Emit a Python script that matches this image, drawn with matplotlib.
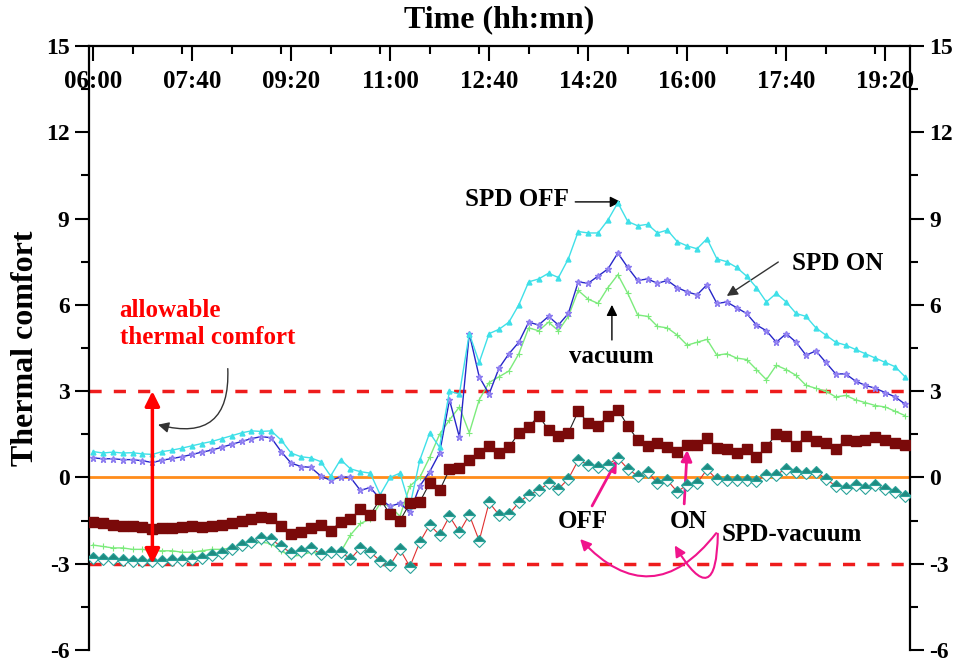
import numpy as np
import matplotlib
matplotlib.use('Agg')
import matplotlib.pyplot as plt
from matplotlib.ticker import FixedLocator, MultipleLocator, FuncFormatter
from matplotlib.patches import FancyArrowPatch

plt.rcParams['font.family'] = 'Liberation Serif'
plt.rcParams['font.weight'] = 'bold'
plt.rcParams['axes.unicode_minus'] = False

# sample times, minutes after midnight (06:00 -> 19:40, every 10 min)
minutes = np.arange(360, 1181, 10)

spd_off = [0.90, 0.85, 0.88, 0.85, 0.86, 0.82, 0.80, 0.90, 0.95, 1.02,
           1.10, 1.18, 1.25, 1.35, 1.45, 1.55, 1.62, 1.60, 1.62, 1.30,
           0.85, 0.72, 0.68, 0.55, 0.05, 0.62, 0.30, 0.20, 0.15, -0.60,
           0.00, 0.15, -1.00, 0.60, 1.55, 1.05, 3.00, 2.90, 5.00, 4.00,
           5.00, 5.15, 5.40, 6.00, 6.80, 6.90, 7.10, 6.95, 7.60, 8.55,
           8.50, 8.50, 8.95, 9.55, 8.90, 8.75, 8.80, 8.50, 8.60, 8.20,
           8.05, 7.95, 8.30, 7.60, 7.50, 7.30, 7.00, 6.60, 6.10, 6.40,
           6.10, 5.70, 5.60, 5.20, 4.95, 4.70, 4.60, 4.45, 4.30, 4.15,
           4.00, 3.85, 3.50]

spd_on = [0.68, 0.65, 0.65, 0.62, 0.62, 0.58, 0.52, 0.60, 0.66, 0.72,
          0.80, 0.88, 0.95, 1.05, 1.15, 1.25, 1.35, 1.42, 1.38, 0.90,
          0.50, 0.38, 0.35, 0.05, -0.10, 0.02, 0.00, -0.45, -0.35, -0.75,
          -1.00, -0.90, -1.20, -0.30, 0.20, 0.85, 2.70, 1.40, 5.00, 3.50,
          2.90, 3.80, 4.30, 4.70, 5.40, 5.30, 5.60, 5.30, 5.70, 6.80,
          6.75, 7.00, 7.25, 7.80, 7.30, 6.85, 6.90, 6.75, 6.85, 6.60,
          6.45, 6.35, 6.70, 6.05, 6.10, 5.90, 5.70, 5.30, 5.10, 4.70,
          5.00, 4.70, 4.25, 4.40, 4.00, 3.60, 3.60, 3.35, 3.20, 3.10,
          2.95, 2.80, 2.55]

vacuum = [-2.35, -2.40, -2.45, -2.45, -2.50, -2.50, -2.55, -2.55, -2.55, -2.60,
          -2.60, -2.55, -2.50, -2.50, -2.45, -2.40, -2.30, -2.25, -2.30, -2.55,
          -2.75, -2.70, -2.60, -2.65, -2.60, -2.60, -2.00, -1.60, -1.45, -0.90,
          -1.00, -1.35, -0.30, 0.00, 0.70, 1.50, 2.00, 2.45, 1.55, 2.70,
          3.30, 3.50, 3.70, 4.30, 5.20, 5.10, 5.40, 5.10, 5.60, 6.50,
          6.20, 6.05, 6.60, 7.05, 6.40, 5.65, 5.60, 5.25, 5.20, 4.95,
          4.60, 4.70, 4.80, 4.25, 4.30, 4.15, 4.10, 3.75, 3.40, 3.90,
          3.75, 3.55, 3.20, 3.10, 3.00, 2.80, 2.85, 2.70, 2.60, 2.50,
          2.45, 2.30, 2.15]

diff_on = [-1.55, -1.60, -1.65, -1.70, -1.70, -1.72, -1.80, -1.75, -1.75, -1.72,
           -1.70, -1.72, -1.68, -1.65, -1.60, -1.50, -1.45, -1.38, -1.40, -1.70,
           -1.95, -1.90, -1.75, -1.65, -1.85, -1.55, -1.45, -1.10, -1.30, -0.75,
           -1.28, -1.50, -0.90, -0.85, -0.20, -0.45, 0.28, 0.33, 0.62, 0.85,
           1.10, 0.85, 1.05, 1.55, 1.75, 2.15, 1.65, 1.45, 1.55, 2.30,
           1.90, 1.80, 2.15, 2.35, 1.80, 1.30, 1.10, 1.20, 1.07, 0.90,
           1.14, 1.14, 1.38, 1.03, 1.00, 0.86, 1.00, 0.70, 1.07, 1.50,
           1.45, 1.10, 1.45, 1.25, 1.20, 1.00, 1.30, 1.25, 1.30, 1.42,
           1.30, 1.20, 1.12]

diff_off = [-2.80, -2.85, -2.85, -2.88, -2.90, -2.90, -2.92, -2.90, -2.88, -2.86,
            -2.84, -2.80, -2.70, -2.62, -2.50, -2.35, -2.25, -2.10, -2.15, -2.40,
            -2.62, -2.55, -2.45, -2.66, -2.60, -2.58, -2.84, -2.45, -2.60, -2.90,
            -3.05, -2.50, -3.10, -2.25, -1.65, -2.00, -1.35, -1.90, -1.30, -2.20,
            -0.87, -1.30, -1.28, -0.87, -0.60, -0.45, -0.20, -0.40, -0.05, 0.60,
            0.45, 0.35, 0.45, 0.68, 0.30, 0.05, 0.20, -0.20, -0.10, -0.50,
            -0.25, -0.20, 0.28, -0.07, -0.10, -0.10, -0.08, -0.12, 0.10, 0.10,
            0.30, 0.20, 0.15, 0.20, -0.05, -0.30, -0.35, -0.25, -0.35, -0.28,
            -0.40, -0.50, -0.64]

major_ticks = [360, 460, 560, 660, 760, 860, 960, 1060, 1160]

fig = plt.figure(figsize=(9.58, 6.62), dpi=100)
ax = fig.add_axes([0.0929, 0.0181, 0.857, 0.9124])

# reference lines
ax.axhline(0, color='#FF8C1A', lw=2, zorder=1)
ax.axhline(3, color='#EE1C1C', lw=2.5, ls=(0, (3.5, 3.5)), zorder=1)
ax.axhline(-3, color='#EE1C1C', lw=2.5, ls=(0, (3.5, 3.5)), zorder=1)

# series
ax.plot(minutes, vacuum, color='#7CEB7C', lw=1, marker='+', ms=4, mew=0.8, zorder=3)
ax.plot(minutes, spd_on, color='#2626C8', lw=1, marker='*', ms=5, mfc='#A99CF5', mec='#8C7CF0', zorder=4)
ax.plot(minutes, spd_off, color='#3FE0E8', lw=1, marker='^', ms=3.5, zorder=5)
ax.plot(minutes, diff_off, color='#E03030', lw=0.8, marker='D', ms=6.5, fillstyle='top',
        mfc='#1F8A80', mfcalt='white', mec='#2AA39A', mew=0.8, zorder=6)
ax.plot(minutes, diff_on, color='#222222', lw=0.8, marker='s', ms=6.5,
        mfc='#7A0A0A', mec='#7A0A0A', zorder=7)

# axes styling
ax.set_xlim(356, 1185)
ax.set_ylim(-6, 15)
for side in ['top', 'left', 'right']:
    ax.spines[side].set_linewidth(1.6)
ax.spines['bottom'].set_visible(False)

ax.xaxis.set_major_locator(FixedLocator(major_ticks))
ax.xaxis.set_minor_locator(MultipleLocator(50))
ax.xaxis.set_major_formatter(FuncFormatter(lambda v, p: '%02d:%02d' % (int(v) // 60, int(v) % 60)))
ax.tick_params(axis='x', which='both', direction='in', top=True, bottom=False,
               labeltop=True, labelbottom=False, width=1.5)
ax.tick_params(axis='x', which='major', length=11, pad=-34, labelsize=18)
ax.tick_params(axis='x', which='minor', length=6)

ax.set_yticks(range(-6, 16, 3))
ax.yaxis.set_minor_locator(MultipleLocator(1.5))
ax.tick_params(axis='y', which='both', direction='out', left=True, right=True,
               labelleft=True, labelright=True, width=1.5)
ax.tick_params(axis='y', which='major', length=10, labelsize=17, pad=4)
ax.tick_params(axis='y', which='minor', length=6)

ax.xaxis.set_label_position('top')
ax.set_xlabel('Time (hh:mn)', fontsize=23, fontweight='bold', labelpad=10)
ax.set_ylabel('Thermal comfort', fontsize=23, fontweight='bold', labelpad=4)

# allowable band annotation
ax.annotate('', xy=(420, 3), xytext=(420, -3),
            arrowprops=dict(arrowstyle='<|-|>', color='#FF0000', lw=2.5,
                            mutation_scale=22, shrinkA=0, shrinkB=0), zorder=8)
ax.text(387, 5.33, 'allowable\nthermal comfort', color='#FF0000', fontsize=18,
        fontweight='bold', ha='left', va='center', linespacing=1.25)
ax.add_patch(FancyArrowPatch((496, 3.88), (423, 1.86), connectionstyle='arc3,rad=-0.7',
                             arrowstyle='-|>', mutation_scale=16, color='#333333', lw=1, zorder=9))

# series labels
ax.text(788, 9.65, 'SPD OFF', fontsize=18, fontweight='bold', ha='center', va='center')
ax.annotate('', xy=(893, 9.58), xytext=(847, 9.58),
            arrowprops=dict(arrowstyle='-|>', color='black', lw=1, mutation_scale=16,
                            shrinkA=0, shrinkB=0))
ax.text(1112, 7.45, 'SPD ON', fontsize=18, fontweight='bold', ha='center', va='center')
ax.annotate('', xy=(1000, 6.31), xytext=(1052, 7.49),
            arrowprops=dict(arrowstyle='-|>', color='#333333', lw=1, mutation_scale=16,
                            shrinkA=0, shrinkB=0))
ax.text(883, 4.19, 'vacuum', fontsize=18, fontweight='bold', ha='center', va='center')
ax.annotate('', xy=(884, 6.0), xytext=(884, 4.78),
            arrowprops=dict(arrowstyle='-|>', color='black', lw=1, mutation_scale=16,
                            shrinkA=0, shrinkB=0))

pink = '#F0148C'
ax.text(855, -1.52, 'OFF', fontsize=18, fontweight='bold', ha='center', va='center')
ax.annotate('', xy=(889, 0.6), xytext=(864, -0.99),
            arrowprops=dict(arrowstyle='-|>', color=pink, lw=2, mutation_scale=16,
                            shrinkA=0, shrinkB=0))
ax.text(961, -1.52, 'ON', fontsize=18, fontweight='bold', ha='center', va='center')
ax.annotate('', xy=(960, 0.95), xytext=(957, -0.92),
            arrowprops=dict(arrowstyle='-|>', color=pink, lw=2, mutation_scale=16,
                            shrinkA=0, shrinkB=0))
ax.text(1066, -2.0, 'SPD-vacuum', fontsize=18, fontweight='bold', ha='center', va='center')
ax.add_patch(FancyArrowPatch((991, -1.86), (850, -2.07), connectionstyle='arc3,rad=-0.6',
                             arrowstyle='-|>', mutation_scale=16, color=pink, lw=1.5, zorder=9))
ax.add_patch(FancyArrowPatch((991, -1.86), (946, -2.28), connectionstyle='arc3,rad=-1.8',
                             arrowstyle='-|>', mutation_scale=16, color=pink, lw=1.5, zorder=9))

fig.savefig('out.png', dpi=100)
